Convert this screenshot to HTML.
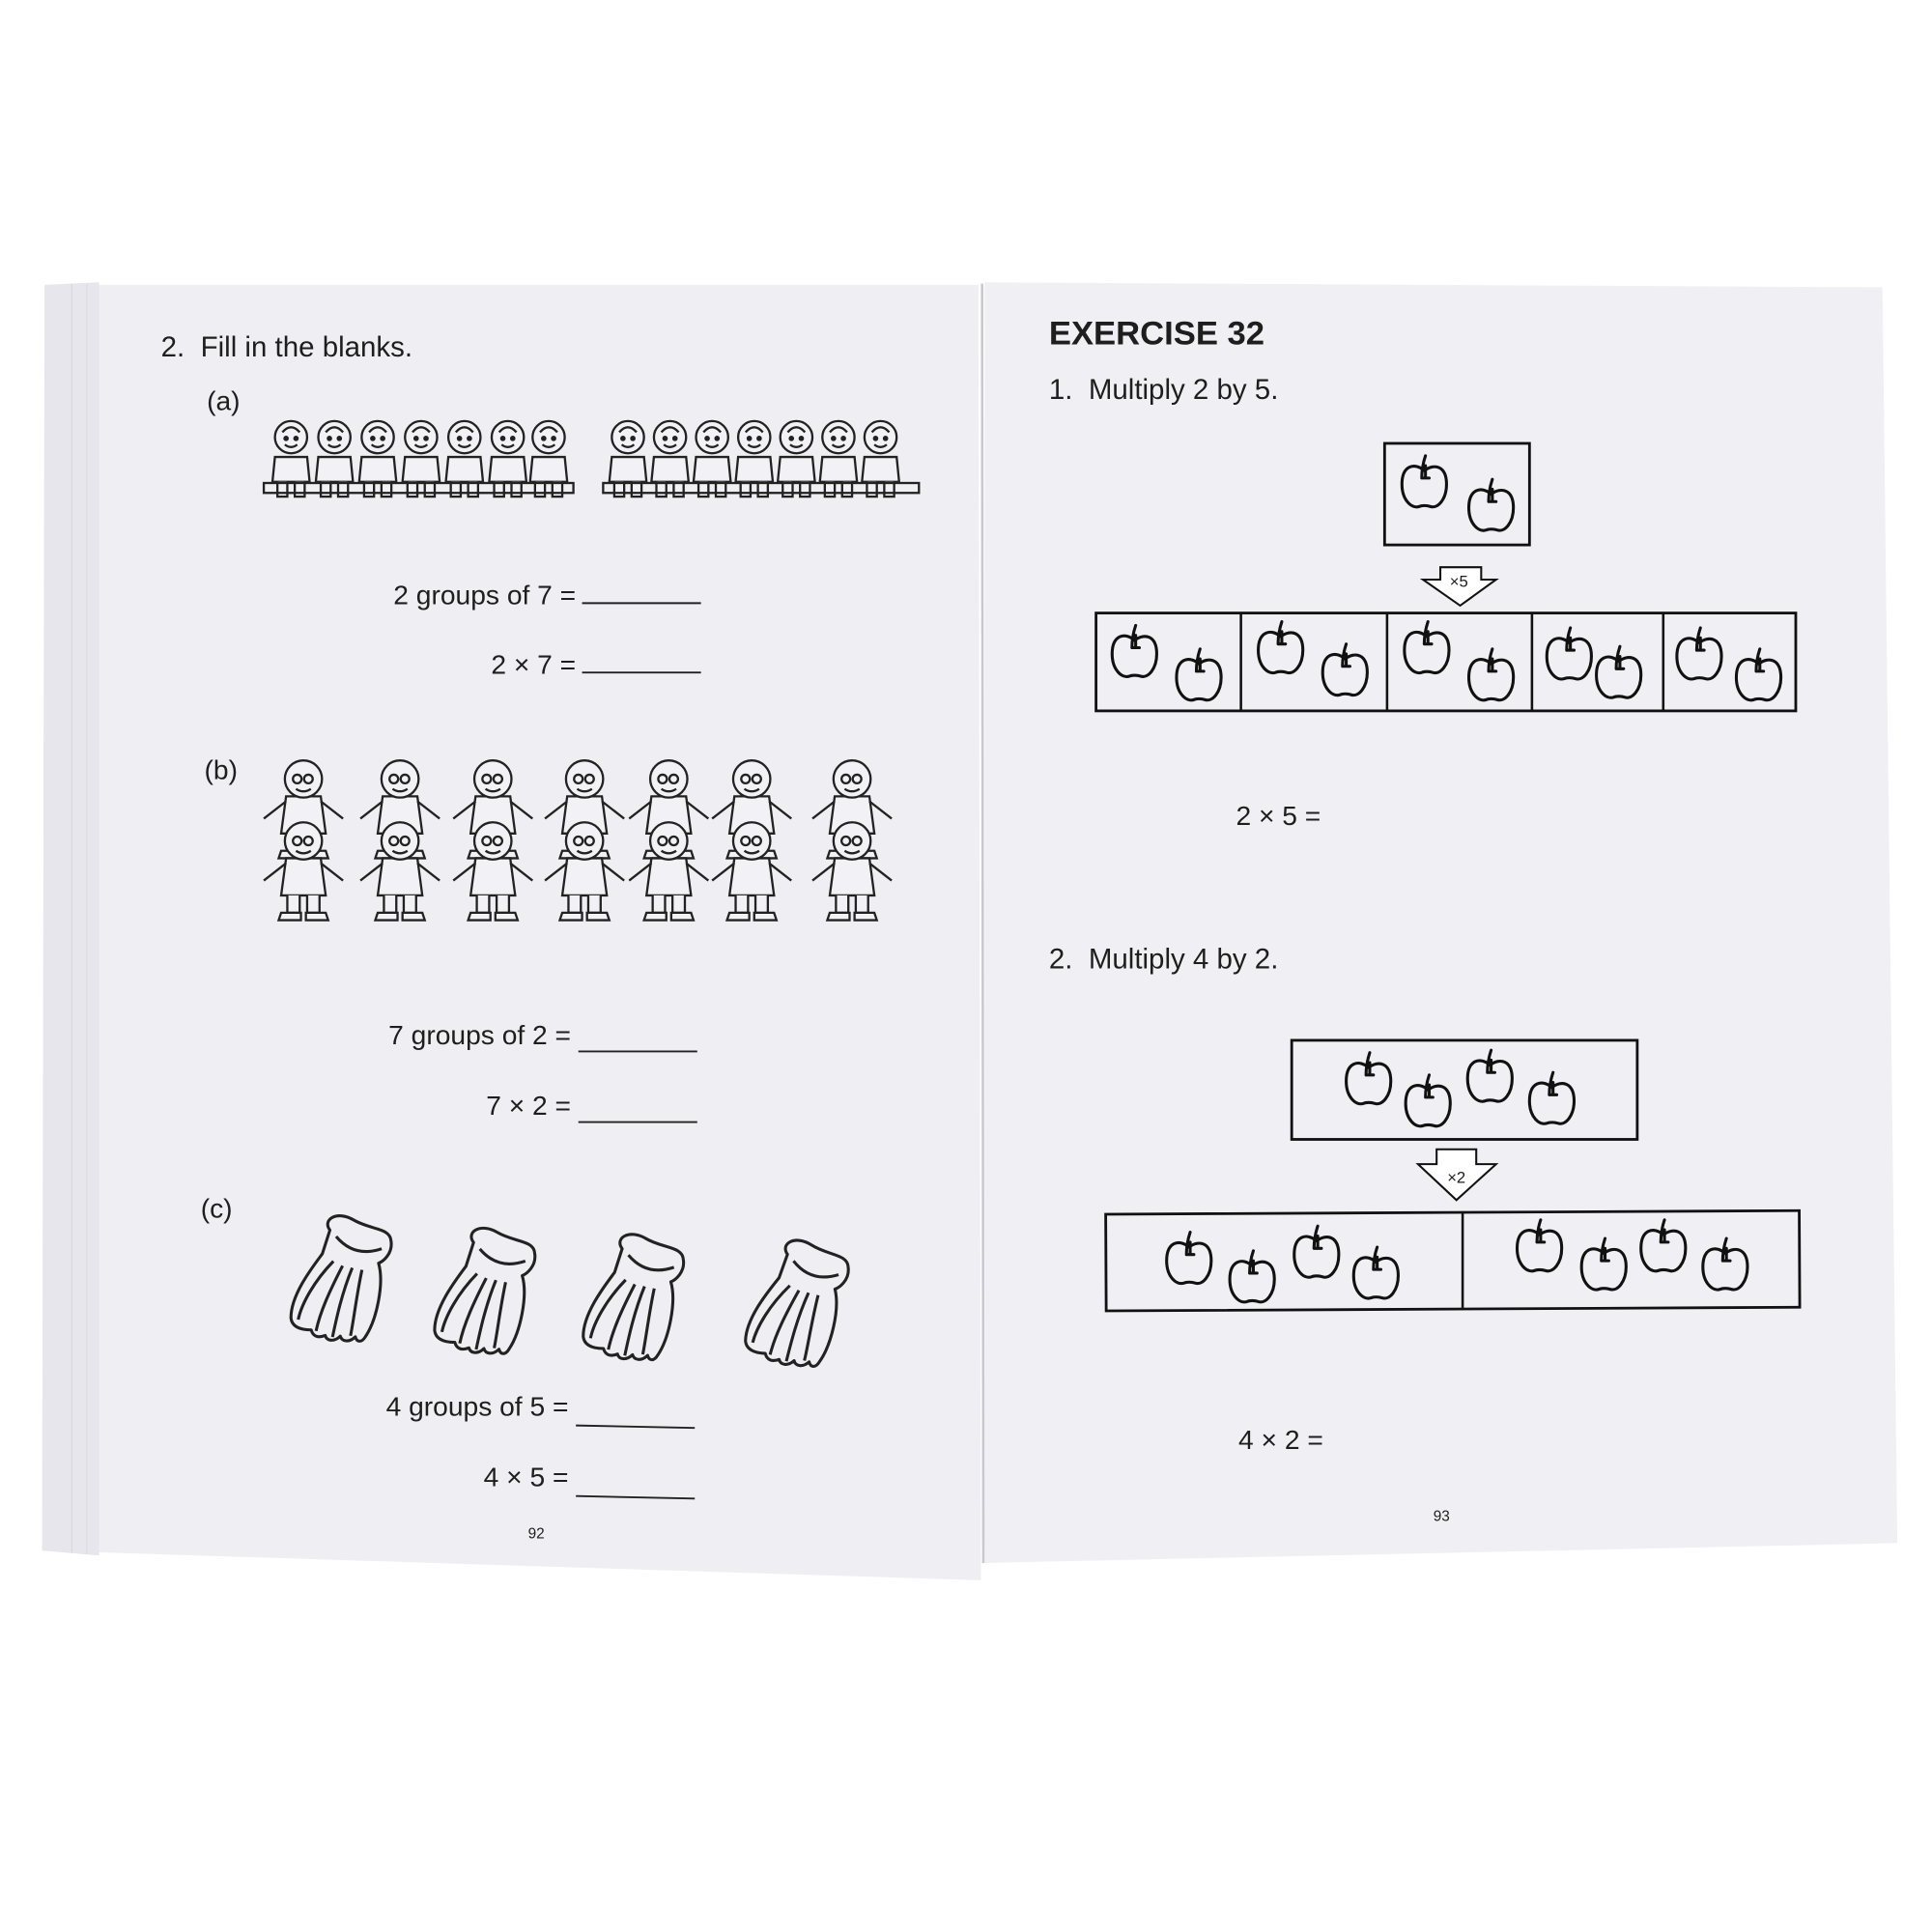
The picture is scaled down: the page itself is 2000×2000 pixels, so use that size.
<!DOCTYPE html>
<html><head><meta charset="utf-8"><style>
html,body{margin:0;padding:0;background:#fff;}
svg{display:block;}
text{font-family:"Liberation Sans",sans-serif;fill:#1e1e1e;}
</style></head><body>
<svg width="2000" height="2000" viewBox="0 0 1560 1560" xmlns="http://www.w3.org/2000/svg">
<defs>
<g id="apple" fill="none" stroke="#111" stroke-width="2.4" stroke-linejoin="round" stroke-linecap="round">
<path d="M20 14 C12 7 2 10 2 25 C2 38 10 45 16 43 C18 42 22 42 25 43 C31 45 38 37 38 25 C38 10 28 8 20 14 Z"/>
<path d="M18 20 C18 14 19 8 21 2 M21 10 L21 20 M18 20 L24 20"/>
</g>
<g id="kid" fill="#f2f2f6" stroke="#222" stroke-width="1.8">
<path d="M4 32 L30 32 L32 52 L2 52 Z"/>
<circle cx="17" cy="16" r="13"/>
<path d="M10 12 Q17 4 24 12" fill="none"/>
<circle cx="13" cy="17" r="1.3" fill="#222"/><circle cx="21" cy="17" r="1.3" fill="#222"/>
<path d="M12 22 Q17 26 22 22" fill="none"/>
<path d="M6 52 L6 64 L14 64 L14 52 M20 52 L20 64 L28 64 L28 52"/>
</g>
<g id="stand" fill="#f2f2f6" stroke="#222" stroke-width="1.8">
<path d="M-14 28 L14 28 L18 58 L-18 58 Z"/>
<path d="M-14 32 L-32 46 M14 32 L32 46" fill="none"/>
<circle cx="0" cy="14" r="15"/>
<circle cx="-5" cy="14" r="3.5" fill="none"/><circle cx="4" cy="14" r="3.5" fill="none"/>
<path d="M-6 22 Q0 26 6 22" fill="none"/>
<path d="M-13 58 L-13 72 L-3 72 L-3 58 M3 58 L3 72 L13 72 L13 58"/>
<path d="M-18 72 L-2 72 L-2 78 L-20 78 Z M2 72 L18 72 L20 78 L2 78 Z"/>
</g>
<g id="banana" fill="none" stroke="#222" stroke-width="2.4" stroke-linejoin="round">
<path d="M-22 -38 C-30 -45 -20 -55 -5 -50 C10 -45 25 -50 28 -40 C32 -30 25 -22 22 -20 C30 -5 30 25 24 40 C22 46 18 46 16 42 C12 48 6 48 4 44 C0 50 -6 50 -8 46 C-14 50 -18 48 -20 44 C-30 46 -36 44 -38 38 C-42 20 -30 -5 -24 -18 Z"/>
<path d="M-16 -34 Q2 -20 22 -32"/>
<path d="M-14 -14 C-26 5 -32 25 -32 38 M-6 -12 C-12 10 -16 28 -16 44 M2 -12 C-2 10 -2 30 -2 46 M10 -12 C10 10 12 30 12 42"/>
</g>
</defs>
<rect width="1560" height="1560" fill="#fff"/>
<polygon points="36,230 790,230 792,1276 34,1252" fill="#eeeef3"/>
<polygon points="36,230 80,228 80,1256 34,1252" fill="#e6e6ec"/>
<line x1="58" y1="229" x2="58" y2="1254" stroke="#d8d8e0" stroke-width="1"/>
<line x1="70" y1="229" x2="70" y2="1255" stroke="#dcdce3" stroke-width="1"/>
<polygon points="795,228 1520,232 1532,1246 795,1262" fill="#f0f0f4"/>
<line x1="793" y1="229" x2="794" y2="1262" stroke="#c8c8d0" stroke-width="2"/>

<text x="130" y="288" font-size="23">2.&#160;&#160;Fill in the blanks.</text>
<text x="167" y="331" font-size="22">(a)</text>
<g>
<use href="#kid" x="218" y="337"/><use href="#kid" x="253" y="337"/><use href="#kid" x="288" y="337"/><use href="#kid" x="323" y="337"/><use href="#kid" x="358" y="337"/><use href="#kid" x="393" y="337"/><use href="#kid" x="426" y="337"/>
<rect x="213" y="390" width="250" height="8" fill="none" stroke="#222" stroke-width="1.8"/>
<use href="#kid" x="490" y="337"/><use href="#kid" x="524" y="337"/><use href="#kid" x="558" y="337"/><use href="#kid" x="592" y="337"/><use href="#kid" x="626" y="337"/><use href="#kid" x="660" y="337"/><use href="#kid" x="694" y="337"/>
<rect x="487" y="390" width="255" height="8" fill="none" stroke="#222" stroke-width="1.8"/>
</g>
<text x="465" y="488" font-size="22" text-anchor="end">2 groups of 7 =</text>
<line x1="470" y1="487" x2="566" y2="487" stroke="#222" stroke-width="1.5"/>
<text x="465" y="544" font-size="22" text-anchor="end">2 × 7 =</text>
<line x1="470" y1="543" x2="566" y2="543" stroke="#222" stroke-width="1.5"/>

<text x="165" y="629" font-size="22">(b)</text>
<g>
<use href="#stand" x="245" y="615"/><use href="#stand" x="245" y="665"/>
<use href="#stand" x="323" y="615"/><use href="#stand" x="323" y="665"/>
<use href="#stand" x="398" y="615"/><use href="#stand" x="398" y="665"/>
<use href="#stand" x="472" y="615"/><use href="#stand" x="472" y="665"/>
<use href="#stand" x="540" y="615"/><use href="#stand" x="540" y="665"/>
<use href="#stand" x="607" y="615"/><use href="#stand" x="607" y="665"/>
<use href="#stand" x="688" y="615"/><use href="#stand" x="688" y="665"/>
</g>
<text x="461" y="843" font-size="22" text-anchor="end">7 groups of 2 =</text>
<line x1="467" y1="849" x2="563" y2="849" stroke="#222" stroke-width="1.5"/>
<text x="461" y="900" font-size="22" text-anchor="end">7 × 2 =</text>
<line x1="467" y1="906" x2="563" y2="906" stroke="#222" stroke-width="1.5"/>

<text x="162" y="983" font-size="22">(c)</text>
<use href="#banana" transform="translate(280 1035) rotate(12)"/>
<use href="#banana" transform="translate(396 1045) rotate(12)"/>
<use href="#banana" transform="translate(516 1050) rotate(12)"/>
<use href="#banana" transform="translate(648 1055) rotate(14)"/>
<text x="459" y="1143" font-size="22" text-anchor="end">4 groups of 5 =</text>
<line x1="465" y1="1151" x2="561" y2="1153" stroke="#222" stroke-width="1.5"/>
<text x="459" y="1200" font-size="22" text-anchor="end">4 × 5 =</text>
<line x1="465" y1="1208" x2="561" y2="1210" stroke="#222" stroke-width="1.5"/>
<text x="433" y="1242" font-size="12" text-anchor="middle">92</text>

<text x="847" y="278" font-size="27" font-weight="bold" fill="#111">EXERCISE 32</text>
<text x="847" y="322" font-size="23">1.&#160;&#160;Multiply 2 by 5.</text>
<rect x="1118" y="358" width="117" height="82" fill="none" stroke="#111" stroke-width="2.2"/>
<use href="#apple" x="1130" y="366"/><use href="#apple" x="1184" y="385"/>
<path d="M1163 458 L1196 458 L1196 468 L1208 468 L1179 489 L1149 468 L1163 468 Z" fill="#fff" stroke="#111" stroke-width="1.6"/>
<text x="1178" y="474" font-size="13" text-anchor="middle">×5</text>
<rect x="885" y="495" width="565" height="79" fill="none" stroke="#111" stroke-width="2.2"/>
<line x1="1002" y1="495" x2="1002" y2="574" stroke="#111" stroke-width="2"/>
<line x1="1120" y1="495" x2="1120" y2="574" stroke="#111" stroke-width="2"/>
<line x1="1237" y1="495" x2="1237" y2="574" stroke="#111" stroke-width="2"/>
<line x1="1343" y1="495" x2="1343" y2="574" stroke="#111" stroke-width="2"/>
<use href="#apple" x="896" y="503"/><use href="#apple" x="948" y="522"/>
<use href="#apple" x="1014" y="500"/><use href="#apple" x="1066" y="518"/>
<use href="#apple" x="1132" y="500"/><use href="#apple" x="1184" y="522"/>
<use href="#apple" x="1247" y="505"/><use href="#apple" x="1287" y="520"/>
<use href="#apple" x="1352" y="505"/><use href="#apple" x="1400" y="522"/>
<text x="998" y="666" font-size="22">2 × 5 =</text>

<text x="847" y="782" font-size="23">2.&#160;&#160;Multiply 4 by 2.</text>
<rect x="1043" y="840" width="279" height="80" fill="none" stroke="#111" stroke-width="2.2"/>
<use href="#apple" x="1085" y="848"/><use href="#apple" x="1133" y="866"/><use href="#apple" x="1183" y="846"/><use href="#apple" x="1233" y="864"/>
<path d="M1160 928 L1192 928 L1192 940 L1208 940 L1176 969 L1145 940 L1160 940 Z" fill="#fff" stroke="#111" stroke-width="1.6"/>
<text x="1176" y="955" font-size="13" text-anchor="middle">×2</text>
<rect x="893" y="979" width="560" height="78" fill="none" stroke="#111" stroke-width="2.2" transform="rotate(-0.3 1173 1018)"/>
<line x1="1181" y1="978" x2="1181" y2="1056" stroke="#111" stroke-width="2"/>
<use href="#apple" x="940" y="993"/><use href="#apple" x="991" y="1008"/><use href="#apple" x="1043" y="988"/><use href="#apple" x="1091" y="1005"/>
<use href="#apple" x="1223" y="983"/><use href="#apple" x="1275" y="998"/><use href="#apple" x="1323" y="983"/><use href="#apple" x="1373" y="998"/>
<text x="1000" y="1170" font-size="22">4 × 2 =</text>
<text x="1164" y="1228" font-size="12" text-anchor="middle">93</text>
</svg>
</body></html>
